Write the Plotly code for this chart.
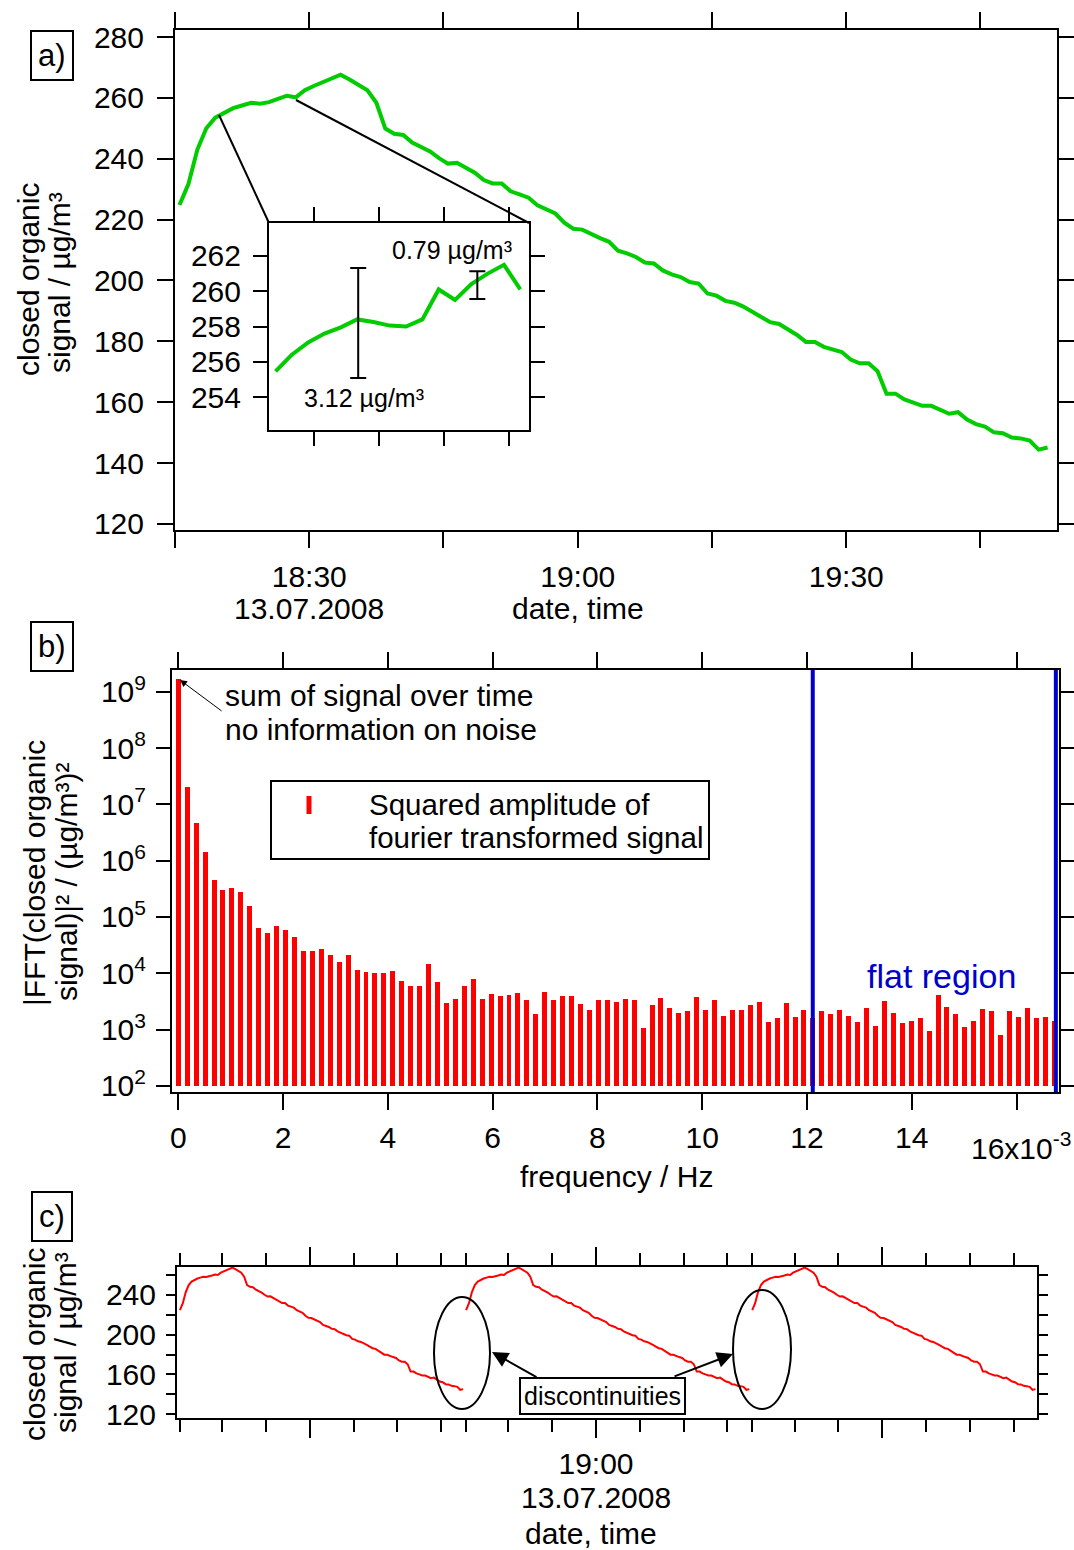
import plotly.graph_objects as go
from datetime import datetime, timedelta

W, H = 1074, 1550
FONT = "Liberation Sans, Arial, Helvetica, sans-serif"

# ---------------- data ----------------
signal_start = "2008-07-13 18:15:30"
signal_step_min = 1
signal = [224.8, 231.7, 243.0, 250.0, 253.5, 255.2, 256.6, 257.5, 258.4, 258.1,
          258.6, 259.7, 260.7, 260.2, 262.5, 263.9, 265.1, 266.3, 267.6, 266.0,
          264.4, 262.5, 258.4, 249.9, 248.2, 247.8, 245.3, 243.9, 242.4, 240.2,
          238.4, 238.7, 236.9, 235.4, 233.0, 231.9, 231.9, 229.3, 228.3, 227.2,
          224.7, 223.2, 222.0, 219.0, 217.0, 216.7, 215.2, 213.9, 212.7, 209.8,
          208.9, 207.7, 205.9, 205.6, 203.3, 202.0, 201.1, 199.5, 199.0, 195.7,
          195.0, 193.3, 192.7, 191.4, 189.7, 187.9, 186.3, 185.7, 184.0, 182.1,
          179.8, 179.8, 178.2, 177.4, 176.5, 174.0, 172.8, 172.8, 170.2, 162.8,
          162.8, 160.9, 160.0, 158.8, 158.8, 157.4, 156.2, 156.7, 154.3, 152.8,
          152.0, 150.1, 149.8, 148.4, 148.1, 147.4, 144.4, 145.1]

inset_start = "2008-07-13 18:20:50"
inset_step_s = 30
inset_signal = [255.45, 256.4, 257.1, 257.6, 257.95, 258.4, 258.25, 258.05,
                258.0, 258.4, 260.1, 259.5, 260.4, 261.0, 261.5, 260.1]

err_times = ["2008-07-13 18:23:22", "2008-07-13 18:27:01"]
err_centers = [258.2, 260.35]
err_half = [3.12, 0.79]
err_labels = ["3.12 µg/m³", "0.79 µg/m³"]

fft_df = 1.706e-4  # Hz per bin
fft_power = [1.7e9, 2.0e7, 4.7e6, 1.4e6, 4.5e5, 3.0e5, 3.3e5, 2.8e5, 1.55e5, 6.5e4,
             5.1e4, 6.9e4, 5.9e4, 4.4e4, 2.45e4, 2.5e4, 2.7e4, 2.15e4, 1.6e4, 2.15e4,
             1.15e4, 1.05e4, 1.0e4, 1.0e4, 1.1e4, 7.2e3, 6.0e3, 6.0e3, 1.45e4, 6.9e3,
             3.0e3, 3.5e3, 6.0e3, 7.9e3, 3.5e3, 4.3e3, 4.0e3, 4.2e3, 4.4e3, 3.4e3,
             1.86e3, 4.7e3, 3.3e3, 3.9e3, 3.9e3, 2.9e3, 2.2e3, 3.3e3, 3.4e3, 3.1e3,
             3.5e3, 3.3e3, 1.07e3, 2.75e3, 3.6e3, 2.4e3, 1.95e3, 2.15e3, 3.8e3, 2.2e3,
             3.4e3, 1.74e3, 2.25e3, 2.25e3, 2.7e3, 3.1e3, 1.38e3, 1.62e3, 2.95e3, 1.7e3,
             2.25e3, 1.62e3, 2.15e3, 1.86e3, 2.2e3, 1.78e3, 1.35e3, 2.4e3, 1.15e3, 3.2e3,
             1.95e3, 1.32e3, 1.45e3, 1.58e3, 9.5e2, 4.2e3, 2.5e3, 1.9e3, 1.12e3, 1.4e3,
             2.3e3, 2.15e3, 7.9e2, 2.15e3, 1.7e3, 2.4e3, 1.58e3, 1.7e3, 1.4e3]
fft_base = 100
flat_region = [12.11e-3, 16.75e-3]

period_min = 98          # length of the record (panel c repeats it)
copy_offsets = [-1, 0, 1]

a_ticks = ["18:15", "18:30", "18:45", "19:00", "19:15", "19:30", "19:45"]
a_ticklabels = ["", "18:30", "", "19:00", "", "19:30", ""]
a_yticks = [120, 140, 160, 180, 200, 220, 240, 260, 280]
inset_xticks = ["18:22", "18:24", "18:26", "18:28"]
inset_yticks = [254, 256, 258, 260, 262]
b_xticks = [0, 2, 4, 6, 8, 10, 12, 14, 16]          # x10^-3 Hz
b_ydecades = [2, 3, 4, 5, 6, 7, 8, 9]
c_yticks = [120, 140, 160, 180, 200, 220, 240, 260]
c_ylabels = ["120", "", "160", "", "200", "", "240", ""]
c_minor_times = ["18:30", "18:45", "19:15", "19:30", "19:45"]

# ---------------- helpers ----------------
DAY = "2008-07-13 "
def dt(s):
    return datetime.strptime(s, "%Y-%m-%d %H:%M:%S") if len(s) > 8 else datetime.strptime(DAY + s, "%Y-%m-%d %H:%M")

def dom_x(a, b):
    return [a / W, b / W]

def dom_y(top, bottom):
    return [1 - bottom / H, 1 - top / H]

def px(x, y):
    return x / W, 1 - y / H

t0 = dt(signal_start)
times = [t0 + timedelta(minutes=signal_step_min * k) for k in range(len(signal))]
ti0 = dt(inset_start)
inset_times = [ti0 + timedelta(seconds=inset_step_s * k) for k in range(len(inset_signal))]
freqs = [k * fft_df for k in range(len(fft_power))]

GREEN = "#00CC00"
RED = "#FF0000"
BLUE = "#0000CC"
FS = 30

fig = go.Figure()

fig.add_trace(go.Scatter(x=times, y=signal, mode="lines",
                         line=dict(color=GREEN, width=4), xaxis="x", yaxis="y"))
fig.add_trace(go.Scatter(x=inset_times, y=inset_signal, mode="lines",
                         line=dict(color=GREEN, width=4), xaxis="x2", yaxis="y2"))
fig.add_trace(go.Scatter(x=[dt(s) for s in err_times], y=err_centers, mode="markers",
                         marker=dict(size=1, color="rgba(0,0,0,0)"),
                         error_y=dict(type="data", array=err_half, visible=True,
                                      color="black", thickness=2, width=8),
                         xaxis="x2", yaxis="y2"))
fig.add_trace(go.Bar(x=freqs, y=[p - fft_base for p in fft_power], base=fft_base,
                     width=0.95e-4, marker=dict(color=RED, line=dict(width=0)),
                     xaxis="x3", yaxis="y3"))
for o in copy_offsets:
    fig.add_trace(go.Scatter(x=[t + timedelta(minutes=o * period_min) for t in times], y=signal,
                             mode="lines", line=dict(color=RED, width=2),
                             xaxis="x4", yaxis="y4"))

axis_common = dict(showline=True, linecolor="black", linewidth=2, mirror="allticks",
                   ticks="outside", tickcolor="black", tickwidth=2, showgrid=False,
                   zeroline=False, automargin=False,
                   tickfont=dict(size=FS, color="black", family=FONT))

c_major = [dt("19:00") + timedelta(minutes=o * period_min) for o in copy_offsets]
c_minor = []
for o in copy_offsets:
    c_minor.append(t0 + timedelta(minutes=o * period_min))
    for s in c_minor_times:
        c_minor.append(dt(s) + timedelta(minutes=o * period_min))

fig.update_layout(
    template="none",
    width=W, height=H, autosize=False,
    margin=dict(l=0, r=0, t=0, b=0, pad=0),
    paper_bgcolor="white", plot_bgcolor="white",
    showlegend=False, bargap=0,
    font=dict(family=FONT, size=FS, color="black"),
    xaxis=dict(axis_common, domain=dom_x(175, 1057), anchor="y", type="date",
               range=["2008-07-13 18:15:00", "2008-07-13 19:53:33"],
               tickmode="array", tickvals=[dt(s) for s in a_ticks], ticktext=a_ticklabels,
               ticklen=16, ticklabelstandoff=3),
    yaxis=dict(axis_common, domain=dom_y(30, 530), anchor="x", range=[118, 282.3],
               tickmode="array", tickvals=a_yticks, ticklen=16, ticklabelstandoff=7),
    xaxis2=dict(axis_common, domain=dom_x(269, 529), anchor="y2", type="date",
                range=["2008-07-13 18:20:38", "2008-07-13 18:28:36"],
                tickmode="array", tickvals=[dt(s) for s in inset_xticks],
                showticklabels=False, ticklen=14),
    yaxis2=dict(axis_common, domain=dom_y(223, 430), anchor="x2", range=[252.13, 263.87],
                tickmode="array", tickvals=inset_yticks, ticklen=14, ticklabelstandoff=6),
    xaxis3=dict(axis_common, domain=dom_x(172, 1059), anchor="y3",
                range=[-0.12e-3, 16.81e-3], tickmode="array",
                tickvals=[v * 1e-3 for v in b_xticks],
                ticktext=[str(v) for v in b_xticks[:-1]] + [""], ticklen=16,
                ticklabelstandoff=2),
    yaxis3=dict(axis_common, domain=dom_y(670, 1092), anchor="x3", type="log",
                range=[1.893, 9.385], tickmode="array",
                tickvals=[10 ** d for d in b_ydecades],
                ticktext=["10<sup>%d</sup>" % d for d in b_ydecades], ticklen=14,
                ticklabelstandoff=4),
    xaxis4=dict(axis_common, domain=dom_x(177, 1037), anchor="y4", type="date",
                range=["2008-07-13 16:36:30", "2008-07-13 21:31:02"],
                tickmode="array", tickvals=c_major, ticktext=["", "19:00", ""], ticklen=18,
                minor=dict(tickmode="array", tickvals=c_minor, ticklen=12, tickwidth=2,
                           tickcolor="black", ticks="outside")),
    yaxis4=dict(axis_common, domain=dom_y(1267, 1418), anchor="x4", range=[116, 268.2],
                tickmode="array", tickvals=c_yticks, ticktext=c_ylabels, ticklen=9,
                ticklabelstandoff=4),
)

shapes = []
annotations = []

def ann(x, y, text, size=FS, color="black", **kw):
    xx, yy = px(x, y)
    d = dict(x=xx, y=yy, xref="paper", yref="paper", text=text, showarrow=False,
             xanchor="center", yanchor="middle",
             font=dict(size=size, color=color, family=FONT))
    d.update(kw)
    annotations.append(d)

def line_px(x0, y0, x1, y1, color="black", width=2):
    a0, b0 = px(x0, y0)
    a1, b1 = px(x1, y1)
    shapes.append(dict(type="line", xref="paper", yref="paper", x0=a0, y0=b0, x1=a1, y1=b1,
                       line=dict(color=color, width=width)))

# panel labels
for lab, cy in [("a)", 55), ("b)", 646), ("c)", 1216)]:
    ann(52, cy, lab, size=31, bordercolor="black", borderwidth=2, borderpad=6)

# y titles (one annotation per line)
ann(28, 280, "closed organic", textangle=-90)
ann(60, 282, "signal / µg/m³", textangle=-90)
ann(34, 873, "|FFT(closed organic", textangle=-90)
ann(66, 882, "signal)|² / (µg/m³)²", textangle=-90)
ann(34, 1345, "closed organic", textangle=-90)
ann(65, 1343, "signal / µg/m³", textangle=-90)

# panel a date line
ann(309, 609, "13.07.2008")
ann(578, 609, "date, time")
# panel b x title and exponent
ann(616, 1176, "frequency / Hz")
ann(969, 1146, "16x10<sup>-3</sup>", xanchor="left")
# panel c date lines
ann(596, 1497, "13.07.2008")
ann(591, 1533, "date, time")

# inset connector lines
line_px(219, 115, 269, 223)
line_px(296, 100, 529, 223)

# inset error bar labels
ann(364, 398, err_labels[0], size=25)
ann(452, 250, err_labels[1], size=25)

# panel b annotations
ann(223, 695, "sum of signal over time", xanchor="left")
ann(223, 729, "no information on noise", xanchor="left")
annotations.append(dict(x=px(180, 680)[0], y=px(180, 680)[1], xref="paper", yref="paper",
                        ax=43, ay=32, text="", showarrow=True, arrowhead=2, arrowsize=1.4,
                        arrowwidth=1, arrowcolor="black"))
# legend box
a0, b0 = px(271, 781)
a1, b1 = px(709, 859)
shapes.append(dict(type="rect", xref="paper", yref="paper", x0=a0, y0=b0, x1=a1, y1=b1,
                   line=dict(color="black", width=2), fillcolor="white", layer="above"))
line_px(309, 796, 309, 814, color=RED, width=5)
ann(367, 804, "Squared amplitude of", size=29.5, xanchor="left")
ann(367, 837, "fourier transformed signal", size=29.5, xanchor="left")

# flat region lines
for f in flat_region:
    shapes.append(dict(type="line", xref="x3", yref="y3 domain", x0=f, x1=f, y0=0, y1=1,
                       line=dict(color=BLUE, width=4)))
ann(941, 976, "flat region", size=34, color=BLUE)

# panel c: ellipses, label box, arrows
for (x0, y0, x1, y1) in [(434, 1297, 490, 1409), (733, 1290, 791, 1409)]:
    p0 = px(x0, y0); p1 = px(x1, y1)
    shapes.append(dict(type="circle", xref="paper", yref="paper", x0=p0[0], y0=p1[1],
                       x1=p1[0], y1=p0[1], line=dict(color="black", width=2)))
ann(602, 1396, "discontinuities", size=25, bordercolor="black", borderwidth=2,
    borderpad=3, bgcolor="white")
for (hx, hy, tx, ty) in [(492, 1352, 538, 1378), (733, 1354, 673, 1377)]:
    annotations.append(dict(x=px(hx, hy)[0], y=px(hx, hy)[1], xref="paper", yref="paper",
                            ax=tx - hx, ay=ty - hy, text="", showarrow=True, arrowhead=2,
                            arrowsize=1.6, arrowwidth=2, arrowcolor="black"))

fig.update_layout(shapes=shapes, annotations=annotations)
fig.write_html("out.html")
